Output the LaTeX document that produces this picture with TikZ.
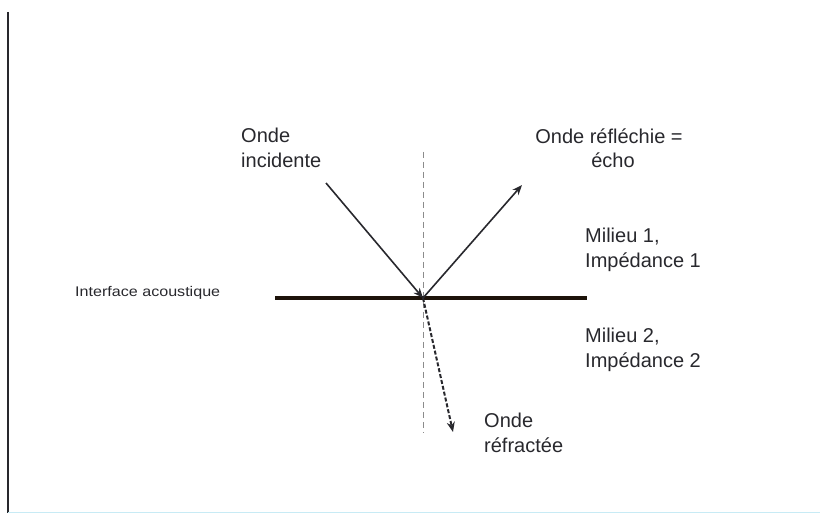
\documentclass[tikz,border=0pt]{standalone}
\usepackage{fontspec}
\setmainfont{Liberation Sans}
\usepackage{xcolor}
\usepackage{tikz}
\usetikzlibrary{arrows.meta, positioning}
\definecolor{inkdark}{RGB}{40,40,45}
\definecolor{normalgray}{RGB}{140,140,140}
\definecolor{scanblue}{RGB}{200,235,245}

\begin{document}
\begin{tikzpicture}[
				x=1pt, y=-1pt,
				label/.style={inner sep=0pt, align=left, text=inkdark,
					font=\fontsize{20}{24.5}\selectfont},
				smalllabel/.style={inner sep=0pt, text=inkdark,
					font=\fontsize{14}{16}\selectfont},
				wave/.style={-{Stealth[length=10pt, width=8pt]}, line width=1.6pt, color=inkdark},
				refrwave/.style={-{Stealth[length=10pt, width=8pt]}, line width=2pt,
					color=inkdark, dash pattern=on 4pt off 2pt},
				interface/.style={line width=3.5pt, color=black!85!brown},
				normal/.style={line width=0.8pt, color=normalgray, dash pattern=on 6pt off 4pt}
				]
				\useasboundingbox (0,0) rectangle (820,513);

				% frame of the scan
				\coordinate (frametop) at (8,12);
				\coordinate (framebot) at (8,513);
				\coordinate (frameright) at (820,512);
				\draw[line width=1.4pt, color=inkdark] (frametop) -- (framebot);
				\draw[line width=1pt, color=scanblue] (8,512) -- (frameright);

				% interface and normal
				\coordinate (ifleft) at (275,298);
				\coordinate (ifright) at (587,298);
				\coordinate (hit) at (423,298);
				\coordinate (normtop) at (423,152);
				\coordinate (normbot) at (423,433);
				\draw[normal] (normtop) -- (normbot);
				\draw[interface] (ifleft) -- (ifright);

				% waves
				\coordinate (incstart) at (326,183);
				\coordinate (reflend) at (522,185);
				\coordinate (refrend) at (453,432);
				\draw[wave] (incstart) -- (hit);
				\draw[wave] (hit) -- (reflend);
				\draw[refrwave] (hit) -- (refrend);

				% labels
				\node[label, anchor=west] (incident) at (241,148) {Onde\\incidente};
				\node[label, align=center] (reflected) at (609,148) {Onde réfléchie =\\\hspace*{8pt}écho};
				\node[label, anchor=west] (medium1) at (585,250) {Milieu 1,\\Impédance 1};
				\node[label, anchor=west] (medium2) at (585,350) {Milieu 2,\\Impédance 2};
				\node[label, anchor=west] (refracted) at (484,433) {Onde\\réfractée};
				\node[smalllabel, anchor=west] (iflabel) at (75,293) {\scalebox{1.15}[1]{Interface acoustique}};
			\end{tikzpicture}
\end{document}
